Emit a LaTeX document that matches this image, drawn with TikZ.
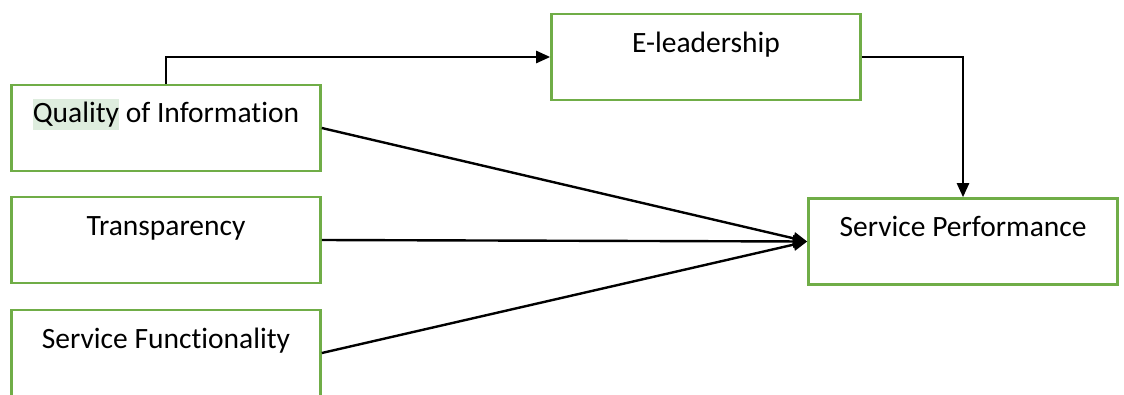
\documentclass[tikz,border=0pt]{standalone}
\usepackage{fontspec}
\setmainfont{Carlito}[Ligatures=NoCommon]
\usepackage{tikz}
\usetikzlibrary{arrows.meta, positioning}

\definecolor{boxgreen}{HTML}{70AD47}
\definecolor{hlgreen}{HTML}{DEEDDE}

\begin{document}
\begin{tikzpicture}[x=1pt, y=-1pt,
  box/.style={rectangle, draw=boxgreen, line width=2.6pt, minimum width=309pt, minimum height=86pt, inner sep=0pt},
  lbl/.style={anchor=base, font=\fontsize{29.5}{33}\selectfont, inner sep=0pt},
  e/.style={-{Triangle[length=14pt, width=12pt]}, line width=2.4pt}]

  \useasboundingbox (0,0) rectangle (1124,394);
  \clip (0,0) rectangle (1124,394);

  \node[box] (q) at (166,128)   {};
  \node[box] (t) at (166,240)   {};
  \node[box] (f) at (166,353)   {};
  \node[box] (el) at (706,57)   {};
  \node[box] (sp) at (963,241.5) {};

  \node[lbl] (qt) at ([yshift=-38.5pt]q.north) {\setlength{\fboxsep}{0pt}\colorbox{hlgreen}{\rule[-0.28em]{0pt}{1.05em}Quality} of Information};
  \node[lbl] (tt) at ([yshift=-39.5pt]t.north) {Transparency};
  \node[lbl] (ft) at ([yshift=-39.5pt]f.north) {Service Functionality};
  \node[lbl] (et) at ([yshift=-39.5pt]el.north) {E-leadership};
  \node[lbl] (pt) at ([yshift=-39.5pt]sp.north) {Service Performance};

  \draw[e] (q.north) |- (el.west);
  \draw[e] (el.east) -| (sp.north);
  \draw[e] (q.east) -- (sp.west);
  \draw[e] (t.east) -- (sp.west);
  \draw[e] (f.east) -- (sp.west);
\end{tikzpicture}
\end{document}
